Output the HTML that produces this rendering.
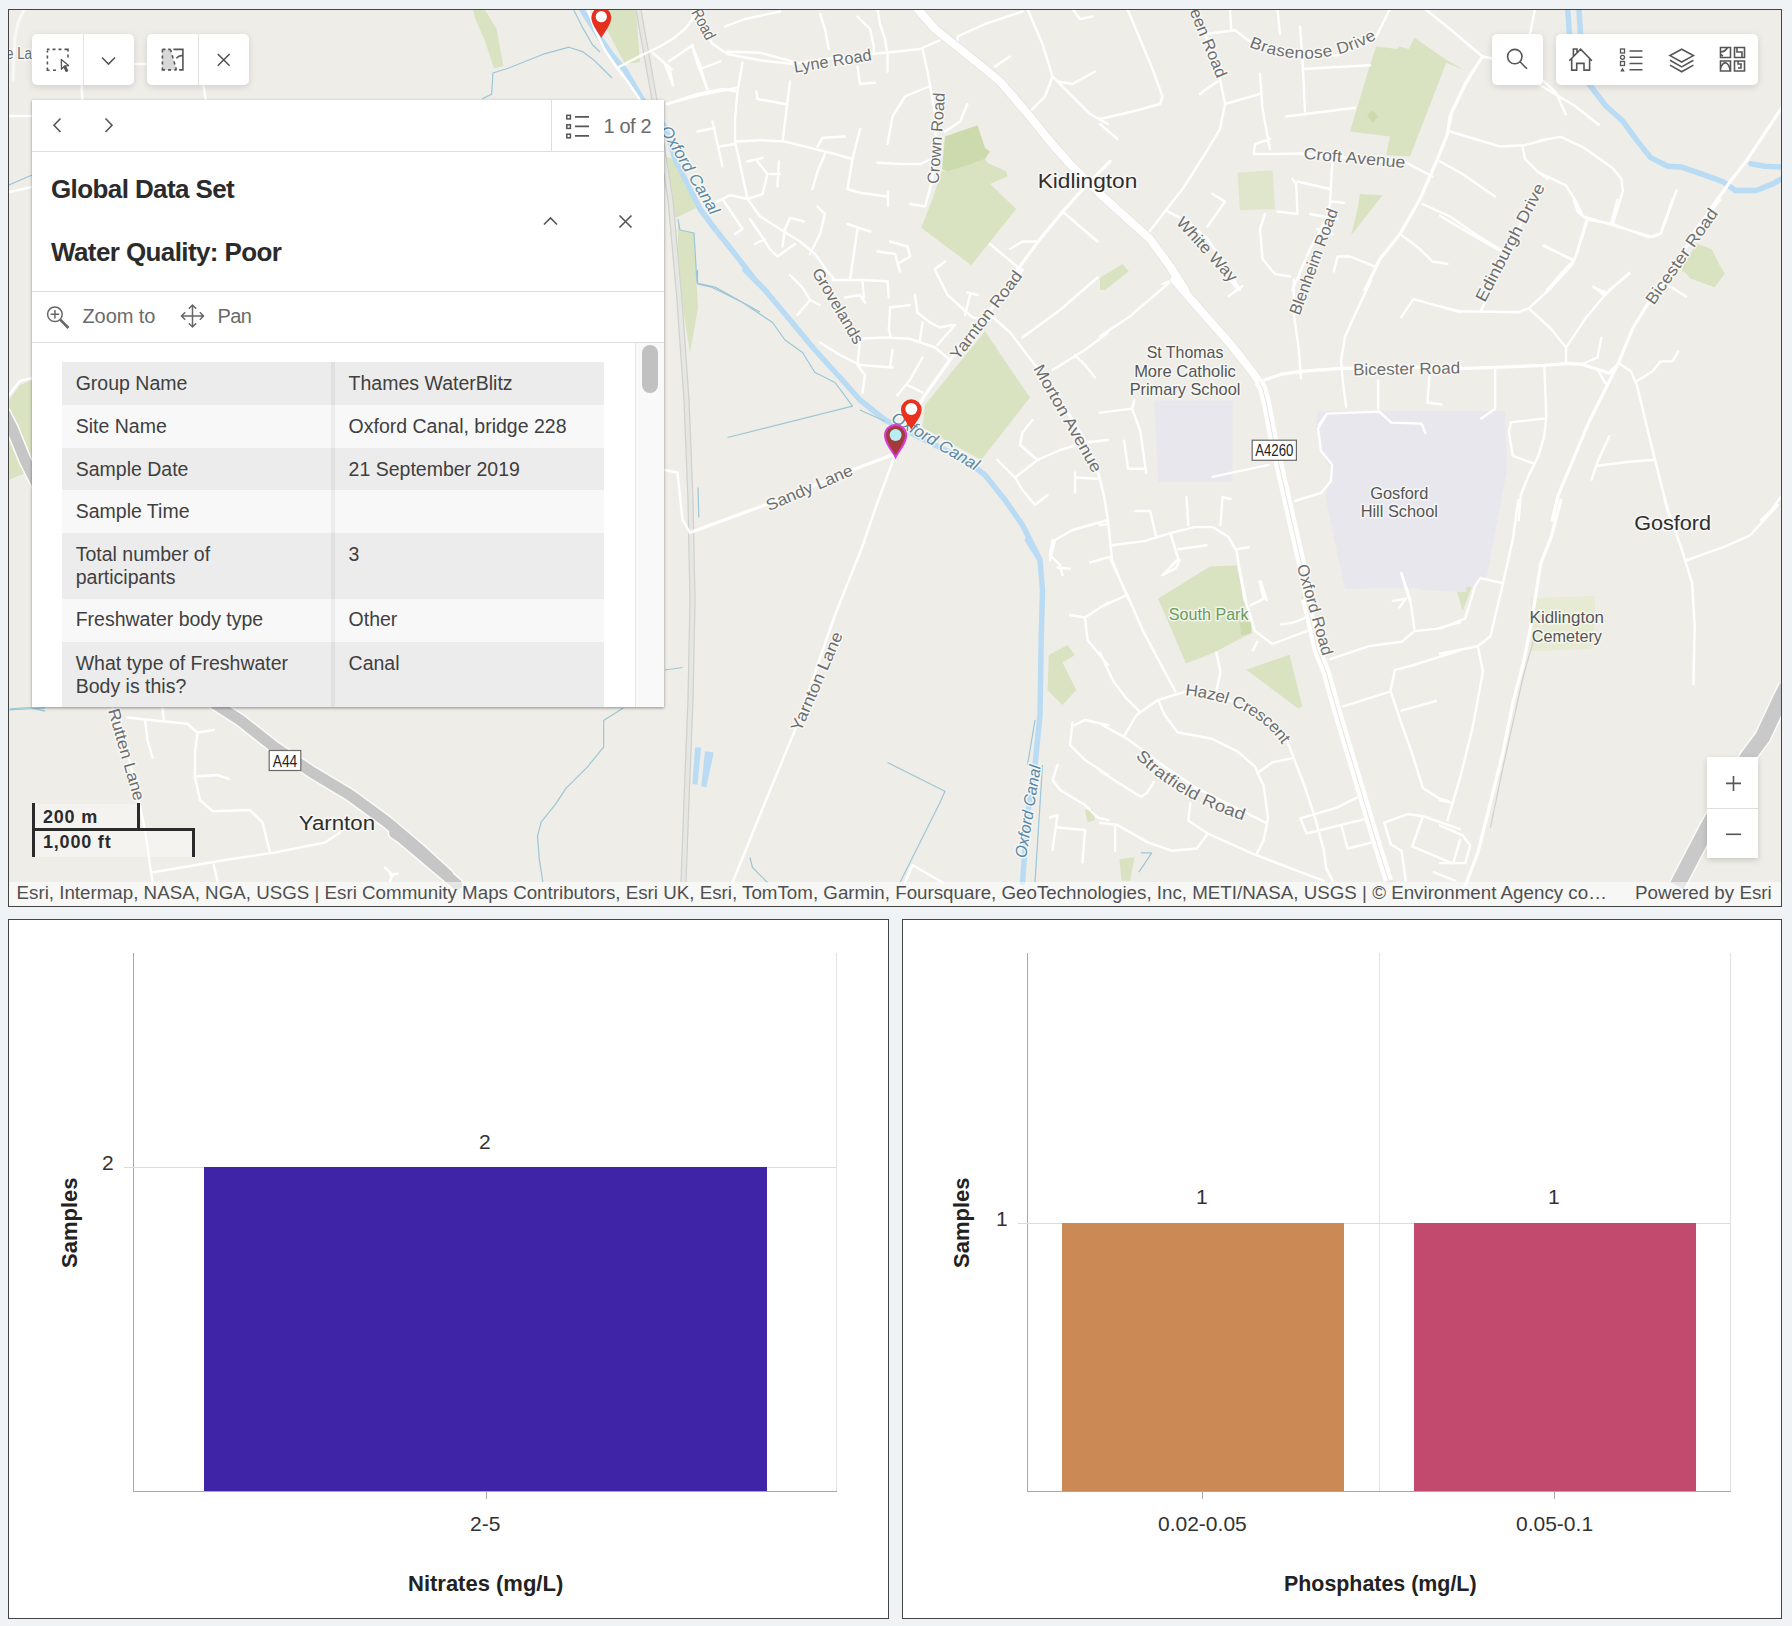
<!DOCTYPE html>
<html><head><meta charset="utf-8">
<style>
*{box-sizing:border-box;margin:0;padding:0}
html,body{width:1792px;height:1626px;overflow:hidden;background:#f0f3f5;font-family:"Liberation Sans",sans-serif;color:#323232}
.abs{position:absolute}
#map{position:absolute;left:8px;top:9px;width:1774px;height:898px;border:1px solid #444;overflow:hidden;background:#eeede8}
#map svg.base{position:absolute;left:-9px;top:-10px}
.panel{position:absolute;top:919px;height:700px;border:1px solid #444;background:#fff;overflow:hidden}
.tb{position:absolute;background:#fff;border-radius:5px;box-shadow:0 2px 7px rgba(0,0,0,.13)}
.t{position:absolute;white-space:nowrap;line-height:1}
</style></head>
<body>
<div id="map">
<svg class="base" width="1792" height="920" viewBox="0 0 1792 920">
<rect x="0" y="0" width="1792" height="920" fill="#eeede8"/>
<!--MAPSTART-->
<path fill="#d9e3c2" stroke="none" d="M947.5 171.5 L985.0 159.0 L987.5 162.8 L1006.2 171.5 L1007.5 176.5 L990.0 184.0 L1016.2 209.0 L971.2 265.2 L921.2 227.8 L932.5 199.0 L942.0 170.2 Z M472.9 9.7 L484.7 9.7 L496.4 28.4 L503.4 65.9 L494.0 68.3 L484.7 40.2 L475.3 19.1 Z M596.0 10.0 L636.0 10.0 L640.0 62.0 L625.0 64.0 L607.0 30.0 Z M9.0 400.0 L20.0 385.0 L32.0 380.0 L32.0 470.0 L9.0 480.0 Z M667.0 157.0 L678.0 160.0 L696.0 208.0 L678.0 217.0 L669.0 219.0 Z M678.0 219.0 L680.0 230.0 L694.0 233.0 L698.0 308.0 L690.0 353.0 L683.0 308.0 L678.0 255.0 Z M925.0 405.0 L985.0 331.2 L1016.2 377.5 L1030.0 397.5 L981.2 460.0 L922.5 427.5 Z M1376.2 46.5 L1397.5 49.0 L1398.8 46.5 L1408.8 49.0 L1414.5 37.8 L1445.0 59.0 L1466.2 71.0 L1446.2 62.8 L1410.0 156.5 L1386.2 155.2 L1390.0 136.5 L1350.0 131.5 L1368.8 69.0 Z M1362.0 181.5 L1360.0 194.0 L1382.5 195.2 L1351.2 235.2 L1357.5 209.0 Z M1100.0 277.8 L1122.5 264.0 L1128.8 271.5 L1105.0 290.0 L1100.0 290.0 Z M1681.7 268.2 L1695.5 245.8 L1711.1 251.0 L1724.9 273.4 L1714.6 287.3 L1690.4 278.6 Z M1682.1 270.9 L1695.9 243.3 L1711.7 249.2 L1723.5 272.8 L1715.6 286.6 L1695.9 278.7 Z M1166.3 600.0 L1208.5 569.3 L1236.6 567.3 L1240.6 600.0 Z M1455.1 585.7 L1472.8 584.5 L1462.7 610.9 Z M1158.1 598.8 L1209.8 566.5 L1236.7 565.4 L1250.7 633.2 L1214.1 652.6 L1186.1 663.4 Z M1246.4 669.8 L1289.5 654.7 L1302.4 706.4 L1298.1 708.6 Z M1119.4 859.3 L1134.5 857.2 L1130.1 880.8 L1121.5 880.8 Z M1048.8 655.0 L1067.5 645.0 L1075.0 655.0 L1062.5 662.5 L1076.2 690.0 L1062.5 705.0 L1047.5 690.0 Z M1085.0 810.0 L1092.5 808.8 L1095.0 820.0 L1087.5 822.5 Z"/>
<path fill="#cddaae" stroke="none" d="M945.0 136.5 L977.5 125.2 L985.0 147.8 L990.0 151.5 L985.0 159.0 L967.5 165.2 L947.5 171.5 L942.0 169.0 Z M1367.0 115.2 L1372.5 110.2 L1378.0 116.5 L1372.5 122.8 Z M1240.0 622.4 L1250.7 621.4 L1251.8 633.2 L1241.0 635.4 Z"/>
<path fill="#e9e7ee" stroke="none" d="M1154.2 400.5 L1232.6 400.5 L1232.6 481.9 L1158.3 481.9 Z M1318.0 411.0 L1505.0 411.0 L1507.0 470.0 L1486.9 575.9 L1473.0 587.0 L1345.1 589.0 L1333.6 535.9 L1325.6 497.6 L1332.0 472.0 L1324.0 459.0 L1316.0 430.1 Z M1341.2 557.8 L1466.1 557.8 L1466.1 592.3 L1423.0 590.1 L1403.6 584.8 L1345.5 585.8 Z"/>
<path fill="#dfe6cc" stroke="none" d="M1237.5 172.8 L1272.5 170.2 L1275.0 209.0 L1240.0 210.2 Z"/>
<path fill="#e8ebd3" stroke="none" d="M1530.8 598.3 L1595.1 595.8 L1593.8 648.8 L1530.8 651.3 Z"/>
<path fill="#b9dcf4" stroke="none" d="M695.0 747.5 L701.2 747.5 L697.5 785.0 L692.5 783.8 Z M705.0 751.2 L713.8 752.5 L706.2 787.5 L701.2 786.2 Z"/>
<path fill="none" stroke="#b9dcf4" stroke-width="5.5" stroke-linejoin="round" stroke-linecap="round" d="M665.0 126.5 L675.0 159.0 L687.5 184.0 L700.0 209.0 L715.0 229.0 L735.0 254.0 L755.0 280.0 M582.0 10.0 L598.0 35.0 L612.0 55.0 L625.0 70.0 L642.0 99.0 L666.0 128.0 M745.0 270.0 L765.0 290.0 L790.0 320.0 L815.0 350.0 L840.0 377.5 L860.0 400.0 L885.0 420.0 L910.0 432.5 L935.0 445.0 L965.0 460.0 L985.0 475.0 L1005.0 500.0 L1022.5 525.0 L1040.0 560.0 M1578.9 9.0 L1580.6 34.9 L1588.4 83.3 L1605.7 105.8 L1623.0 121.3 L1636.8 140.4 L1650.6 157.6 L1667.9 166.3 L1681.7 167.1 L1704.2 174.9 L1723.2 181.8 L1735.3 190.5 L1756.0 190.5 L1773.3 183.6 L1785.4 176.6 M1567.7 9.0 L1569.4 33.2 L1581.5 60.8 M1750.9 163.7 L1764.7 166.3 L1785.4 167.1 M1027.5 540.0 L1040.0 560.0 L1042.5 590.0 L1041.2 640.0 L1040.0 715.0 L1035.0 765.0 L1027.5 815.0 L1022.5 882.5"/>
<path fill="none" stroke="#9dc6d6" stroke-width="1.2" stroke-linejoin="round" d="M10.0 708.8 L30.0 707.5 L45.0 711.2 M623.2 707.9 L603.6 720.4 L603.6 747.1 L587.5 766.8 L566.1 788.2 L555.4 804.3 L541.1 822.1 L537.5 836.4 L539.3 859.6 L542.9 882.0 M482.3 98.7 L491.7 94.1 L492.9 73.0 L508.1 68.3 L543.3 54.2 L569.0 47.2 L583.1 51.9 L592.5 58.9 L600.0 66.0 L612.0 78.0 M573.7 10.0 L583.1 28.4 L592.5 44.8 L600.0 52.0 M9.0 185.0 L25.0 178.0 L32.0 175.0 M9.0 710.0 L45.0 708.0 M678.0 219.0 L680.0 230.0 L694.0 233.0 L697.0 283.0 L715.0 287.0 L760.0 312.0 M697.5 270.0 L697.5 283.8 L712.5 287.5 L742.5 302.5 L772.5 322.5 L785.0 340.0 L802.5 352.5 L815.0 372.5 L835.0 382.5 L852.5 406.2 L727.5 437.5 M860.0 410.0 L885.0 421.2 M698.0 487.5 L698.8 517.5 M1140.9 852.9 L1151.7 852.9 L1143.1 865.8 L1138.8 872.2 M1035.0 720.0 L1027.5 765.0 M1042.5 765.0 L1035.0 882.5 M887.5 762.5 L945.0 791.2 L940.0 802.5 L900.0 882.5 M665.0 670.0 L682.5 667.5 M750.0 857.5 L752.5 867.5 L767.5 882.5"/>
<path fill="none" stroke="#e6e6e2" stroke-width="6" d="M638.5 10.0 L654.5 100.0 L670.5 200.0 L679.5 300.0 L686.5 400.0 L690.5 500.0 L692.5 600.0 L690.5 700.0 L686.5 800.0 L683.5 882.0"/>
<path fill="none" stroke="#d0d0cd" stroke-width="1.2" d="M636.0 10.0 L652.0 100.0 L668.0 200.0 L677.0 300.0 L684.0 400.0 L688.0 500.0 L690.0 600.0 L688.0 700.0 L684.0 800.0 L681.0 882.0 M641.0 10.0 L657.0 100.0 L673.0 200.0 L682.0 300.0 L689.0 400.0 L693.0 500.0 L695.0 600.0 L693.0 700.0 L689.0 800.0 L686.0 882.0 M1533.3 641.2 L1523.2 676.5 L1513.1 721.9 L1503.0 767.3 L1490.4 827.8"/>
<path fill="none" stroke="#ffffff" stroke-opacity="0.6" stroke-width="3" stroke-linecap="round" stroke-linejoin="round" d="M24.0 10.0 L18.0 23.0 L15.0 37.0 L14.0 56.0 L13.0 80.0"/>
<path fill="none" stroke="#fbfbfa" stroke-width="14" stroke-linejoin="round" stroke-linecap="round" d="M215.0 703.8 L240.0 720.0 L275.0 747.5 L312.5 772.5 L350.0 795.0 L387.5 822.5 L420.0 850.0 L448.0 875.5 M394.6 832.9 L400.0 836.4 L421.4 854.3 L444.6 873.9 L457.1 884.6 M0.0 405.0 L12.0 428.0 L25.0 460.0 L40.0 490.0"/>
<path fill="none" stroke="#c6c6c6" stroke-width="11" stroke-linejoin="round" stroke-linecap="round" d="M215.0 703.8 L240.0 720.0 L275.0 747.5 L312.5 772.5 L350.0 795.0 L387.5 822.5 L420.0 850.0 L448.0 875.5 M394.6 832.9 L400.0 836.4 L421.4 854.3 L444.6 873.9 L457.1 884.6 M0.0 405.0 L12.0 428.0 L25.0 460.0 L40.0 490.0"/>
<path fill="none" stroke="#fbfbfa" stroke-width="18" stroke-linejoin="round" d="M1786.7 686.6 L1780.4 699.2 L1762.7 737.0 L1747.6 757.2 L1707.3 827.8 L1677.0 885.8"/>
<path fill="none" stroke="#c9c9c9" stroke-width="15" stroke-linejoin="round" d="M1786.7 686.6 L1780.4 699.2 L1762.7 737.0 L1747.6 757.2 L1707.3 827.8 L1677.0 885.8"/>
<path fill="none" stroke="#ffffff" stroke-width="2.4" stroke-linejoin="round" stroke-linecap="round" d="M692.5 9.0 L702.5 26.5 L712.5 44.0 L727.5 54.0 L760.0 60.2 L792.5 64.0 M660.0 46.5 L672.5 39.0 L685.0 29.0 L692.5 19.0 L697.5 9.0 M727.5 51.5 L760.0 52.8 L792.5 61.5 M792.5 64.0 L835.0 57.8 L872.5 54.0 L897.5 51.5 L920.0 49.0 L940.0 40.2 M887.5 71.5 L887.5 54.0 L885.0 39.0 L880.0 24.0 L877.5 9.0 M820.0 14.0 L825.0 29.0 L828.8 49.0 M857.5 16.5 L870.0 29.0 L873.8 46.5 L873.8 52.8 M857.5 66.5 L860.0 84.0 L875.0 82.8 M725.0 26.5 L745.0 19.0 L780.0 11.5 M665.0 64.0 L672.5 84.0 M692.5 46.5 L697.5 64.0 L707.5 89.0 M700.0 69.0 L720.0 61.5 M667.5 104.0 L697.5 94.0 L722.5 89.0 L737.5 91.5 M742.5 62.8 L737.5 91.5 L735.0 119.0 L735.0 141.5 L740.0 164.0 L747.5 199.0 L760.0 216.5 L780.0 229.0 L800.0 241.5 L815.0 254.0 L827.5 271.5 L835.0 280.0 M735.0 141.5 L760.0 140.2 L785.0 141.5 L810.0 147.8 L835.0 154.0 L852.5 159.0 M860.0 129.0 L852.5 159.0 L847.5 189.0 L860.0 192.8 L887.5 196.5 M888.0 191.5 L888.0 205.2 M790.0 81.5 L782.5 141.5 M756.2 91.5 L757.5 99.0 L785.0 104.0 M845.0 136.5 L822.5 137.8 L817.5 146.5 M825.0 154.0 L817.5 171.5 L812.5 189.0 M697.5 131.5 L715.0 127.8 M712.5 121.5 L722.5 166.5 M720.0 146.5 L735.0 144.0 M712.5 204.0 L730.0 195.2 L747.5 199.0 M722.5 199.0 L742.5 229.0 L735.0 234.0 M747.5 161.5 L762.5 157.8 M757.5 161.5 L767.5 174.0 L762.5 194.0 L747.5 199.0 M770.0 174.0 L780.0 174.0 M778.8 161.5 L777.5 186.5 M750.0 219.0 L760.0 234.0 L770.0 249.0 L777.5 256.5 L795.0 244.0 M755.0 244.0 L765.0 239.0 M803.8 221.5 L790.0 217.8 L785.0 229.0 L782.5 246.5 M817.5 206.5 L825.0 214.0 L820.0 234.0 L810.0 254.0 M847.5 224.0 L870.0 231.5 M857.5 229.0 L850.0 280.0 M877.5 251.5 L895.0 254.0 L900.0 271.5 M890.0 241.5 L907.5 246.5 L910.0 256.5 L897.5 264.0 M922.5 49.0 L927.5 71.5 L931.2 91.5 L935.0 114.0 L936.2 149.0 L931.2 184.0 L925.0 206.5 L910.0 204.0 M928.8 86.5 L905.0 96.5 L892.5 116.5 L887.5 144.0 M877.5 162.8 L900.0 164.0 L920.0 164.0 L931.2 159.0 M945.0 131.5 L960.0 121.5 L967.5 104.0 M957.5 41.5 L957.5 36.5 L985.0 24.0 L1022.5 11.5 M1027.5 9.0 L1042.5 44.0 L1052.5 76.5 L1045.0 96.5 L1030.0 111.5 M1052.5 76.5 L1072.5 96.5 L1090.0 114.0 L1108.0 124.0 M1057.5 81.5 L1072.5 84.0 L1095.0 71.5 M995.0 66.5 L1010.0 56.5 M1072.5 9.0 L1080.0 19.0 L1092.5 16.5 M1062.5 211.5 L1080.0 226.5 L1097.5 241.5 M1010.0 249.0 L1022.5 241.5 L1037.5 241.5 M990.0 244.0 L1005.0 256.5 L1020.0 269.0 M935.0 269.0 L945.0 261.5 M112.5 707.5 L125.0 740.0 L137.5 795.0 L145.0 830.0 L150.0 865.0 L152.5 881.2 M127.5 717.5 L150.0 720.0 L187.5 723.8 L197.5 732.5 L195.0 752.5 L195.0 777.5 L200.0 800.0 L212.5 811.2 L250.0 810.0 L262.5 822.5 L270.0 852.5 M145.0 720.0 L147.5 740.0 L152.5 757.5 M162.5 707.5 L163.8 720.0 M197.5 732.5 L213.8 730.0 M197.5 776.2 L217.5 775.0 L228.8 778.8 M152.5 872.5 L225.0 860.0 L275.0 852.5 L325.0 842.5 L340.0 832.5 M213.8 865.0 L217.5 881.2 M385.0 867.5 L392.5 875.0 L390.0 881.2 M390.0 875.0 L397.5 873.8 M203.4 84.7 L205.8 100.0 M81.5 85.0 L82.3 100.0 M133.0 64.0 L148.0 64.0 M617.0 68.0 L640.0 56.0 L660.0 46.5 M617.0 68.0 L605.0 50.0 L595.0 30.0 L588.0 10.0 M617.0 68.0 L628.0 82.0 L640.0 100.0 M9.0 116.0 L32.0 116.0 M653.0 53.0 L671.8 69.3 M669.0 61.3 L693.0 45.0 M693.0 47.9 L700.0 65.0 L706.6 88.0 M669.0 66.6 L673.0 85.4 M666.4 104.0 L700.0 95.0 L736.0 88.0 M9.0 192.0 L32.0 187.0 M9.0 395.0 L20.0 381.0 L32.0 378.0 M665.0 470.0 L677.5 472.5 L682.5 520.0 L690.0 532.5 M895.0 455.0 L877.5 502.5 L857.5 560.0 M985.0 310.0 L1010.0 332.5 L1035.0 365.0 L1060.0 400.0 L1085.0 440.0 L1097.5 470.0 L1103.8 495.0 L1108.0 520.0 L1112.0 560.0 M1022.5 337.5 L1060.0 310.0 L1097.5 277.5 M1052.5 370.0 L1085.0 350.0 L1108.0 332.5 M1075.0 355.0 L1085.0 365.0 L1095.0 377.5 M997.5 460.0 L1015.0 477.5 L1022.5 490.0 L1035.0 505.0 L1047.5 495.0 M1015.0 477.5 L1037.5 460.0 L1060.0 450.0 L1085.0 442.5 L1108.0 440.0 M1032.5 420.0 L1022.5 432.5 L1020.0 445.0 L1037.5 460.0 M1075.0 472.5 L1075.0 492.5 M1075.0 477.5 L1097.5 478.8 M1050.0 560.0 L1055.0 540.0 L1072.5 530.0 L1108.0 520.0 M790.0 275.0 L802.5 287.5 L810.0 300.0 L820.0 305.0 M797.5 315.0 L810.0 300.0 M820.0 270.0 L835.0 302.5 L850.0 327.5 L860.0 338.8 M860.0 338.8 L885.0 337.5 L910.0 338.8 L935.0 347.5 L950.0 360.0 M832.5 280.0 L860.0 280.0 L887.5 281.2 L888.8 297.5 M862.5 280.0 L863.8 297.5 M845.0 297.5 L860.0 295.0 L865.0 302.5 M890.0 307.5 L910.0 305.0 M890.0 307.5 L888.8 330.0 L891.2 337.5 M915.0 295.0 L917.5 312.5 L930.0 322.5 L940.0 327.5 L952.5 325.0 M935.0 270.0 L947.5 295.0 L972.5 317.5 L990.0 320.0 M967.5 292.5 L977.5 295.0 M970.0 295.0 L965.0 315.0 M922.5 322.5 L920.0 340.0 M955.0 325.0 L937.5 345.0 M820.0 342.5 L840.0 355.0 L860.0 365.0 L892.5 367.5 M860.0 340.0 L857.5 365.0 L865.0 375.0 L862.5 392.5 M892.5 350.0 L890.0 367.5 M922.5 357.5 L910.0 380.0 L897.5 395.0 M907.5 385.0 L922.5 392.5 M1127.5 9.0 L1140.0 39.0 L1152.5 69.0 L1162.5 96.5 L1160.0 104.0 L1132.5 111.5 L1100.0 119.0 M1100.0 124.0 L1117.5 139.0 M1195.0 9.0 L1210.0 46.5 L1220.0 79.0 L1225.0 104.0 L1220.0 129.0 L1205.0 154.0 L1182.5 189.0 L1165.0 211.5 L1147.5 234.0 M1200.0 94.0 L1210.0 86.5 L1217.5 81.5 M1225.0 104.0 L1260.0 94.0 M1260.0 74.0 L1262.5 109.0 L1270.0 149.0 M1270.0 139.0 L1255.0 144.0 L1253.8 154.0 L1275.0 154.0 L1302.5 153.5 L1350.0 157.8 L1406.2 162.8 L1432.5 176.5 M1205.0 34.0 L1235.0 30.2 L1250.0 41.5 L1300.0 54.0 L1337.5 55.2 L1375.0 39.0 L1390.0 9.0 M1230.0 9.0 L1231.2 29.0 M1277.5 9.0 L1280.0 34.0 M1300.0 26.5 L1302.5 59.0 L1305.0 111.5 M1302.5 69.0 L1370.0 65.2 M1286.2 116.5 L1355.0 107.8 M1425.0 9.0 L1450.0 29.0 L1482.5 56.5 L1495.0 59.0 M1470.0 76.5 L1452.5 109.0 L1450.0 124.0 M1450.0 131.5 L1475.0 139.0 L1500.0 146.5 L1525.0 145.2 L1548.0 139.0 M1522.5 146.5 L1525.0 159.0 L1537.5 171.5 L1548.0 179.0 M1440.0 161.5 L1462.5 174.0 L1495.0 196.5 M1422.5 204.0 L1450.0 216.5 L1475.0 234.0 L1500.0 249.0 M1400.0 234.0 L1420.0 249.0 L1432.5 261.5 L1447.5 264.0 M1333.8 271.5 L1337.5 256.5 L1350.0 256.5 L1375.0 266.5 M1535.0 9.0 L1530.0 34.0 M1332.5 159.0 L1330.0 204.0 L1325.0 221.5 L1310.0 249.0 L1292.5 290.0 M1292.5 179.0 L1296.2 184.0 L1297.5 214.0 L1277.5 211.5 M1297.5 181.5 L1330.0 189.0 M1330.0 201.5 L1343.8 202.8 M1310.0 214.0 L1337.5 219.0 M1317.5 229.0 L1332.5 234.0 M1265.0 214.0 L1260.0 229.0 L1262.5 259.0 L1275.0 274.0 L1290.0 276.5 M1167.5 211.5 L1187.5 221.5 L1207.5 239.0 L1225.0 264.0 L1240.0 290.0 M1212.5 194.0 L1225.0 201.5 L1207.5 226.5 M1162.5 284.0 L1175.0 279.0 M1540.0 140.4 L1560.7 136.9 L1583.2 147.3 L1612.6 168.0 L1621.2 178.4 L1623.0 190.5 L1612.6 225.0 M1540.0 173.2 L1565.9 185.3 L1574.6 199.1 L1583.2 216.4 L1612.6 225.0 L1652.3 237.1 L1661.0 233.7 L1676.5 190.5 M1586.7 219.9 L1574.6 259.6 L1565.9 268.2 L1546.9 290.0 M1543.5 245.8 L1572.8 259.6 M1629.9 273.4 L1609.1 290.0 M1593.6 287.3 L1605.7 292.4 M1540.0 78.1 L1555.6 92.0 L1565.9 114.4 M1540.0 85.0 L1574.6 105.8 L1598.8 124.8 M1619.1 363.4 L1630.9 371.3 L1636.9 385.0 L1646.7 426.4 L1656.5 465.7 L1670.3 520.1 M1636.9 381.1 L1652.6 371.3 L1660.5 361.4 L1672.3 361.4 L1678.2 351.6 M1581.7 364.4 L1597.5 357.5 L1601.4 337.8 M1597.5 369.3 L1605.4 383.1 M1566.0 363.4 L1566.0 347.6 L1585.7 318.1 L1605.4 294.5 L1629.0 272.8 M1593.5 286.6 L1603.4 294.5 M1566.0 347.6 L1550.2 328.0 L1528.6 308.3 L1518.7 312.2 L1459.7 311.2 L1440.0 306.3 M1528.6 308.3 L1550.2 288.6 L1571.9 265.0 L1577.8 251.2 L1587.6 219.7 L1611.3 223.6 L1648.7 237.4 L1660.5 233.5 L1672.3 200.0 M1611.3 223.6 L1617.2 200.0 M1587.6 219.7 L1577.8 211.8 L1573.9 200.0 M1544.3 245.3 L1573.9 261.0 M1440.0 215.7 L1469.5 233.5 L1501.0 251.2 M1481.3 310.2 L1495.1 278.7 L1508.9 249.2 L1522.7 219.7 L1532.5 200.0 M1495.1 367.3 L1495.1 408.7 L1481.3 418.5 M1544.3 365.4 L1546.3 416.5 L1544.3 436.2 L1538.4 455.9 L1528.6 475.6 L1520.7 495.3 L1518.7 520.1 M1544.3 418.5 L1510.9 422.4 L1508.9 432.3 L1512.8 455.9 L1534.5 463.8 M1609.3 436.2 L1597.5 461.8 L1591.6 479.5 M1597.5 465.7 L1629.0 461.8 L1654.6 459.8 M1780.6 497.2 L1770.7 511.0 L1760.9 520.1 M1670.3 286.6 L1686.1 296.5 M1100.0 336.2 L1130.1 316.2 L1172.3 280.0 M1228.6 296.1 L1242.6 286.0 M1230.6 280.0 L1236.6 288.0 M1293.9 280.0 L1293.9 314.2 L1298.9 350.3 L1300.9 378.4 M1371.2 280.0 L1357.1 310.1 L1345.1 336.2 L1341.1 360.4 L1343.1 384.5 L1346.1 406.6 M1401.3 317.2 L1413.4 299.1 L1460.0 312.1 M1378.2 380.4 L1378.2 408.6 M1429.4 376.4 L1427.4 402.5 L1441.5 404.5 M1319.0 424.6 L1327.0 413.6 L1379.2 411.6 L1391.3 422.6 L1421.4 423.6 L1425.4 432.7 M1327.0 413.6 L1318.0 428.7 L1321.0 450.8 L1332.0 464.8 L1331.0 480.9 L1321.0 492.9 L1294.9 501.0 M1100.0 412.6 L1132.1 408.6 L1134.2 400.5 M1132.1 408.6 L1140.2 430.7 L1146.2 472.8 M1112.1 560.0 L1120.1 579.9 L1128.9 600.0 M1124.1 440.7 L1128.1 468.8 L1144.2 468.8 M1212.5 476.9 L1268.7 464.8 M1100.0 525.1 L1108.0 524.1 M1112.1 545.2 L1144.2 541.1 L1170.3 533.1 L1194.4 527.1 L1212.5 527.1 L1228.6 537.1 L1236.6 551.2 L1244.6 600.0 M1135.2 511.0 L1150.2 511.0 L1156.2 537.1 M1186.4 497.0 L1188.4 525.1 M1220.5 525.1 L1222.5 497.0 L1230.6 499.0 M1170.3 533.1 L1178.3 559.2 L1164.3 573.3 M1178.3 549.2 L1206.5 545.2 M1236.6 549.2 L1248.7 547.2 M1100.0 559.2 L1110.0 557.2 M1260.7 581.3 L1266.7 600.0 M1401.3 573.3 L1409.4 600.0 M1503.0 583.2 L1480.3 578.2 L1475.3 585.7 L1465.2 618.5 L1440.0 628.6 M1518.2 500.0 L1513.1 537.8 L1503.0 583.2 L1490.4 636.2 L1477.8 646.2 L1440.0 653.8 M1477.8 646.2 L1482.9 671.5 L1472.8 726.9 L1460.2 777.4 L1447.6 820.2 M1440.0 800.1 L1450.1 802.6 M1440.0 825.3 L1462.7 835.4 L1470.3 845.4 L1465.2 863.1 L1440.0 863.1 M1664.4 500.0 L1682.1 550.4 L1692.1 583.2 L1694.7 626.1 L1693.4 684.1 M1685.8 560.5 L1724.9 546.6 L1750.1 535.3 L1777.9 505.0 M1110.8 560.0 L1128.0 596.6 L1143.1 631.1 L1160.3 663.4 L1175.4 691.4 M1100.0 607.4 L1125.8 595.5 M1100.0 652.6 L1112.9 680.6 L1125.8 697.8 L1138.8 710.7 M1123.7 736.6 L1136.6 715.0 L1158.1 700.0 L1186.1 691.4 L1229.2 700.0 L1263.7 719.3 L1287.3 740.9 L1293.8 758.1 L1304.6 786.1 L1315.3 818.4 L1323.9 850.7 L1326.1 867.9 L1332.6 880.8 M1158.1 700.0 L1164.6 715.0 L1177.5 732.3 L1212.0 738.7 L1237.8 751.6 L1255.0 766.7 L1263.7 786.1 L1268.0 818.4 L1263.7 839.9 L1257.2 852.9 M1257.2 773.2 L1272.3 762.4 L1292.7 758.1 M1100.0 723.7 L1123.7 736.6 L1138.8 747.3 L1164.6 766.7 L1196.9 788.3 L1244.3 811.9 L1265.8 822.7 M1100.0 771.0 L1140.9 796.9 L1147.4 792.6 L1153.8 781.8 M1190.4 803.3 L1188.3 820.6 L1207.7 833.5 L1250.7 852.9 L1289.5 867.9 L1323.9 880.8 M1207.7 833.5 L1196.9 848.5 L1171.1 850.7 L1147.4 842.1 L1117.2 824.9 L1100.0 822.7 M1115.1 824.9 L1115.1 850.7 M1216.3 652.6 L1220.6 672.0 L1216.3 691.4 M1237.8 560.0 L1246.4 603.1 L1255.0 631.1 L1272.3 644.0 L1306.7 631.1 M1257.2 641.8 L1252.9 650.4 M1250.7 605.2 L1263.7 598.8 L1259.3 581.5 M1280.9 624.6 L1293.8 622.4 L1304.6 618.1 M1162.4 575.1 L1175.4 568.6 L1179.7 560.0 M1330.4 659.1 L1369.2 646.1 L1401.5 641.8 L1414.4 631.1 L1435.9 628.9 L1460.0 622.4 M1401.5 572.9 L1410.1 598.8 L1414.4 628.9 M1392.9 600.9 L1405.8 598.8 L1399.3 607.4 M1343.3 706.4 L1390.7 691.4 L1401.5 723.7 L1412.2 753.8 L1423.0 788.3 L1440.2 799.0 L1448.8 801.2 M1390.7 689.2 L1395.0 669.8 L1412.2 665.5 L1460.0 650.4 M1401.5 710.7 L1435.9 701.0 M1300.3 818.4 L1306.7 833.5 L1358.4 820.6 L1369.2 818.4 M1300.3 818.4 L1336.9 807.6 L1358.4 796.9 M1341.2 824.9 L1347.6 848.5 L1373.5 842.1 M1384.2 822.7 L1390.7 844.2 L1401.5 850.7 L1405.8 880.8 M1384.2 822.7 L1407.9 814.1 L1423.0 816.2 L1460.0 829.2 M1423.0 816.2 L1412.2 846.4 L1453.1 863.6 L1460.0 839.9 M1433.8 872.2 L1455.3 880.8 M865.0 540.0 L835.0 615.0 L795.0 730.0 L765.0 802.5 L732.5 882.5 M1052.5 540.0 L1050.0 555.0 L1060.0 565.0 L1062.5 575.0 M1057.5 567.5 L1070.0 568.8 M1090.0 562.5 L1108.0 557.5 M1070.0 615.0 L1085.0 617.5 L1108.0 602.5 M1085.0 617.5 L1087.5 640.0 L1108.0 665.0 M1072.5 722.5 L1070.0 745.0 L1085.0 760.0 L1108.0 775.0 M1075.0 725.0 L1085.0 720.0 L1108.0 725.0 M1057.5 765.0 L1052.5 780.0 L1060.0 790.0 L1085.0 805.0 L1097.5 817.5 L1108.0 820.0 M1050.0 817.5 L1057.5 815.0 L1052.5 850.0 M1057.5 827.5 L1085.0 830.0 L1082.5 862.5 M905.0 882.5 L912.5 865.0 L942.5 882.5"/>
<path fill="none" stroke="#ffffff" stroke-width="3.2" stroke-linejoin="round" stroke-linecap="round" d="M1010.0 280.0 L1040.0 239.0 L1065.0 209.0 L1083.0 189.0 L1100.0 171.5 L1110.0 161.5 M690.0 532.5 L765.0 505.0 L852.5 470.0 L895.0 453.8 M895.0 453.8 L910.0 420.0 L925.0 395.0 L950.0 360.0 L975.0 330.0 L1000.0 297.5 L1022.5 270.0 M1482.5 56.5 L1465.0 84.0 L1450.0 116.5 L1447.5 134.0 L1437.5 159.0 L1420.0 199.0 L1400.0 234.0 L1380.0 259.0 L1365.0 290.0 M1650.6 302.8 L1712.8 206.0 L1730.1 181.8 L1747.4 159.4 L1764.7 133.4 L1785.4 102.3 M1719.5 200.0 L1695.9 229.5 L1676.2 265.0 L1648.7 302.4 L1632.9 328.0 L1619.1 361.4 L1605.4 389.0 L1589.6 420.5 L1573.9 457.9 L1558.1 495.3 L1552.2 520.1 M1440.0 369.3 L1495.1 367.3 L1544.3 365.4 L1568.0 363.4 L1581.7 364.4 L1597.5 369.3 L1609.3 373.2 L1619.1 363.4 M1262.7 380.4 L1280.8 374.4 L1300.9 371.4 L1341.1 368.4 L1460.0 366.4 M1561.0 500.0 L1550.9 537.8 L1540.9 563.0 L1530.8 626.1 L1523.2 663.9 L1513.1 701.7 L1503.0 752.1 L1490.4 802.6 L1477.8 853.0 L1465.2 885.8"/>
<path fill="none" stroke="#e4e3de" stroke-width="9.5" stroke-linejoin="round" stroke-linecap="round" d="M917.5 9.0 L935.0 29.0 L960.0 49.0 L985.0 69.0 L1000.0 81.5 L1015.0 99.0 L1030.0 116.5 L1050.0 141.5 L1070.0 164.0 L1090.0 184.0 L1108.0 201.5 M1100.0 194.0 L1125.0 216.5 L1150.0 239.0 L1170.0 266.5 L1185.0 290.0 M1174.3 280.0 L1200.4 310.1 L1230.6 344.3 L1252.7 372.4 L1260.7 384.5 M1258.7 381.4 L1262.7 388.5 L1266.7 404.5 L1272.8 436.7 L1280.8 472.8 L1290.8 517.0 L1300.9 561.2 L1308.9 600.0 M1305.6 598.8 L1306.7 603.1 L1317.5 650.4 L1326.1 672.0 L1336.9 710.7 L1349.8 753.8 L1362.7 796.9 L1375.6 839.9 L1388.5 880.8"/>
<path fill="none" stroke="#ffffff" stroke-width="8" stroke-linejoin="round" stroke-linecap="round" d="M917.5 9.0 L935.0 29.0 L960.0 49.0 L985.0 69.0 L1000.0 81.5 L1015.0 99.0 L1030.0 116.5 L1050.0 141.5 L1070.0 164.0 L1090.0 184.0 L1108.0 201.5 M1100.0 194.0 L1125.0 216.5 L1150.0 239.0 L1170.0 266.5 L1185.0 290.0 M1174.3 280.0 L1200.4 310.1 L1230.6 344.3 L1252.7 372.4 L1260.7 384.5"/>
<path fill="none" stroke="#ffffff" stroke-width="9.5" stroke-linejoin="round" d="M1258.7 381.4 L1262.7 388.5 L1266.7 404.5 L1272.8 436.7 L1280.8 472.8 L1290.8 517.0 L1300.9 561.2 L1308.9 600.0 M1305.6 598.8 L1306.7 603.1 L1317.5 650.4 L1326.1 672.0 L1336.9 710.7 L1349.8 753.8 L1362.7 796.9 L1375.6 839.9 L1388.5 880.8"/>
<path fill="none" stroke="#e4e4e0" stroke-width="1" stroke-linejoin="round" d="M1258.7 381.4 L1262.7 388.5 L1266.7 404.5 L1272.8 436.7 L1280.8 472.8 L1290.8 517.0 L1300.9 561.2 L1308.9 600.0 M1305.6 598.8 L1306.7 603.1 L1317.5 650.4 L1326.1 672.0 L1336.9 710.7 L1349.8 753.8 L1362.7 796.9 L1375.6 839.9 L1388.5 880.8"/>
<text x="704" y="24" transform="rotate(62 704 24)" font-size="16.4" fill="#6e6e6e" font-weight="normal" font-style="normal" text-anchor="middle" dominant-baseline="central" textLength="33" lengthAdjust="spacingAndGlyphs" stroke="#fbfbf8" stroke-width="3" stroke-opacity="0.75" paint-order="stroke" stroke-linejoin="round">Road</text>
<text x="832.5" y="60.5" transform="rotate(-9.2 832.5 60.5)" font-size="16.4" fill="#6e6e6e" font-weight="normal" font-style="normal" text-anchor="middle" dominant-baseline="central" textLength="78.5" lengthAdjust="spacingAndGlyphs" stroke="#fbfbf8" stroke-width="3" stroke-opacity="0.75" paint-order="stroke" stroke-linejoin="round">Lyne Road</text>
<text x="935.8" y="138.3" transform="rotate(-86 935.8 138.3)" font-size="16.4" fill="#6e6e6e" font-weight="normal" font-style="normal" text-anchor="middle" dominant-baseline="central" textLength="91.5" lengthAdjust="spacingAndGlyphs" stroke="#fbfbf8" stroke-width="3" stroke-opacity="0.75" paint-order="stroke" stroke-linejoin="round">Crown Road</text>
<text x="690.6" y="169.6" transform="rotate(59.3 690.6 169.6)" font-size="16.4" fill="#5b87a2" font-weight="normal" font-style="italic" text-anchor="middle" dominant-baseline="central" textLength="100" lengthAdjust="spacingAndGlyphs" stroke="#fbfbf8" stroke-width="3" stroke-opacity="0.75" paint-order="stroke" stroke-linejoin="round">Oxford Canal</text>
<text x="1087.5" y="180.5" transform="rotate(0 1087.5 180.5)" font-size="20.5" fill="#2e2e2e" font-weight="normal" font-style="normal" text-anchor="middle" dominant-baseline="central" textLength="99.6" lengthAdjust="spacingAndGlyphs" stroke="#fbfbf8" stroke-width="3" stroke-opacity="0.75" paint-order="stroke" stroke-linejoin="round">Kidlington</text>
<text x="838.3" y="305.7" transform="rotate(59.4 838.3 305.7)" font-size="16.4" fill="#6e6e6e" font-weight="normal" font-style="normal" text-anchor="middle" dominant-baseline="central" textLength="85" lengthAdjust="spacingAndGlyphs" stroke="#fbfbf8" stroke-width="3" stroke-opacity="0.75" paint-order="stroke" stroke-linejoin="round">Grovelands</text>
<text x="985.8" y="314.8" transform="rotate(-52.6 985.8 314.8)" font-size="16.4" fill="#6e6e6e" font-weight="normal" font-style="normal" text-anchor="middle" dominant-baseline="central" textLength="107" lengthAdjust="spacingAndGlyphs" stroke="#fbfbf8" stroke-width="3" stroke-opacity="0.75" paint-order="stroke" stroke-linejoin="round">Yarnton Road</text>
<text x="1207.5" y="249" transform="rotate(47.5 1207.5 249)" font-size="16.4" fill="#6e6e6e" font-weight="normal" font-style="normal" text-anchor="middle" dominant-baseline="central" textLength="81.4" lengthAdjust="spacingAndGlyphs" stroke="#fbfbf8" stroke-width="3" stroke-opacity="0.75" paint-order="stroke" stroke-linejoin="round">White Way</text>
<text x="1068.3" y="418.2" transform="rotate(60.3 1068.3 418.2)" font-size="16.4" fill="#6e6e6e" font-weight="normal" font-style="normal" text-anchor="middle" dominant-baseline="central" textLength="121" lengthAdjust="spacingAndGlyphs" stroke="#fbfbf8" stroke-width="3" stroke-opacity="0.75" paint-order="stroke" stroke-linejoin="round">Morton Avenue</text>
<text x="935.8" y="440.7" transform="rotate(30.5 935.8 440.7)" font-size="16.4" fill="#5b87a2" font-weight="normal" font-style="italic" text-anchor="middle" dominant-baseline="central" textLength="98.6" lengthAdjust="spacingAndGlyphs" stroke="#fbfbf8" stroke-width="3" stroke-opacity="0.75" paint-order="stroke" stroke-linejoin="round">Oxford Canal</text>
<text x="809.2" y="487.3" transform="rotate(-23.4 809.2 487.3)" font-size="16.4" fill="#6e6e6e" font-weight="normal" font-style="normal" text-anchor="middle" dominant-baseline="central" textLength="92.6" lengthAdjust="spacingAndGlyphs" stroke="#fbfbf8" stroke-width="3" stroke-opacity="0.75" paint-order="stroke" stroke-linejoin="round">Sandy Lane</text>
<text x="1185" y="352.3" transform="rotate(0 1185 352.3)" font-size="16.4" fill="#555555" font-weight="normal" font-style="normal" text-anchor="middle" dominant-baseline="central" textLength="76.7" lengthAdjust="spacingAndGlyphs" stroke="#fbfbf8" stroke-width="3" stroke-opacity="0.75" paint-order="stroke" stroke-linejoin="round">St Thomas</text>
<text x="1185" y="370.7" transform="rotate(0 1185 370.7)" font-size="16.4" fill="#555555" font-weight="normal" font-style="normal" text-anchor="middle" dominant-baseline="central" textLength="101.7" lengthAdjust="spacingAndGlyphs" stroke="#fbfbf8" stroke-width="3" stroke-opacity="0.75" paint-order="stroke" stroke-linejoin="round">More Catholic</text>
<text x="1185" y="389" transform="rotate(0 1185 389)" font-size="16.4" fill="#555555" font-weight="normal" font-style="normal" text-anchor="middle" dominant-baseline="central" textLength="110.7" lengthAdjust="spacingAndGlyphs" stroke="#fbfbf8" stroke-width="3" stroke-opacity="0.75" paint-order="stroke" stroke-linejoin="round">Primary School</text>
<text x="126.9" y="754.4" transform="rotate(73.9 126.9 754.4)" font-size="16.4" fill="#6e6e6e" font-weight="normal" font-style="normal" text-anchor="middle" dominant-baseline="central" textLength="95" lengthAdjust="spacingAndGlyphs" stroke="#fbfbf8" stroke-width="3" stroke-opacity="0.75" paint-order="stroke" stroke-linejoin="round">Rutten Lane</text>
<text x="336.9" y="822.5" transform="rotate(0 336.9 822.5)" font-size="20.5" fill="#2e2e2e" font-weight="normal" font-style="normal" text-anchor="middle" dominant-baseline="central" textLength="76.3" lengthAdjust="spacingAndGlyphs" stroke="#fbfbf8" stroke-width="3" stroke-opacity="0.75" paint-order="stroke" stroke-linejoin="round">Yarnton</text>
<text x="19" y="53" transform="rotate(0 19 53)" font-size="16.4" fill="#6e6e6e" font-weight="normal" font-style="normal" text-anchor="middle" dominant-baseline="central" textLength="26" lengthAdjust="spacingAndGlyphs" stroke="#fbfbf8" stroke-width="3" stroke-opacity="0.75" paint-order="stroke" stroke-linejoin="round">e La</text>
<text x="1208.8" y="42.8" transform="rotate(67.8 1208.8 42.8)" font-size="16.4" fill="#6e6e6e" font-weight="normal" font-style="normal" text-anchor="middle" dominant-baseline="central" textLength="72.9" lengthAdjust="spacingAndGlyphs" stroke="#fbfbf8" stroke-width="3" stroke-opacity="0.75" paint-order="stroke" stroke-linejoin="round">een Road</text>
<text x="1354.6" y="157.4" transform="rotate(5.2 1354.6 157.4)" font-size="16.4" fill="#6e6e6e" font-weight="normal" font-style="normal" text-anchor="middle" dominant-baseline="central" textLength="102.2" lengthAdjust="spacingAndGlyphs" stroke="#fbfbf8" stroke-width="3" stroke-opacity="0.75" paint-order="stroke" stroke-linejoin="round">Croft Avenue</text>
<text x="1509.7" y="242.2" transform="rotate(-62.5 1509.7 242.2)" font-size="16.4" fill="#6e6e6e" font-weight="normal" font-style="normal" text-anchor="middle" dominant-baseline="central" textLength="131" lengthAdjust="spacingAndGlyphs" stroke="#fbfbf8" stroke-width="3" stroke-opacity="0.75" paint-order="stroke" stroke-linejoin="round">Edinburgh Drive</text>
<text x="1681.2" y="256.1" transform="rotate(-55 1681.2 256.1)" font-size="16.4" fill="#6e6e6e" font-weight="normal" font-style="normal" text-anchor="middle" dominant-baseline="central" textLength="113" lengthAdjust="spacingAndGlyphs" stroke="#fbfbf8" stroke-width="3" stroke-opacity="0.75" paint-order="stroke" stroke-linejoin="round">Bicester Road</text>
<text x="1406.6" y="368.4" transform="rotate(-1 1406.6 368.4)" font-size="16.4" fill="#6e6e6e" font-weight="normal" font-style="normal" text-anchor="middle" dominant-baseline="central" textLength="107" lengthAdjust="spacingAndGlyphs" stroke="#fbfbf8" stroke-width="3" stroke-opacity="0.75" paint-order="stroke" stroke-linejoin="round">Bicester Road</text>
<text x="1313.2" y="261.5" transform="rotate(-69.9 1313.2 261.5)" font-size="16.4" fill="#6e6e6e" font-weight="normal" font-style="normal" text-anchor="middle" dominant-baseline="central" textLength="111.8" lengthAdjust="spacingAndGlyphs" stroke="#fbfbf8" stroke-width="3" stroke-opacity="0.75" paint-order="stroke" stroke-linejoin="round">Blenheim Road</text>
<text x="1399.3" y="492.9" transform="rotate(0 1399.3 492.9)" font-size="16.4" fill="#555555" font-weight="normal" font-style="normal" text-anchor="middle" dominant-baseline="central" textLength="58.3" lengthAdjust="spacingAndGlyphs" stroke="#fbfbf8" stroke-width="3" stroke-opacity="0.75" paint-order="stroke" stroke-linejoin="round">Gosford</text>
<text x="1399.3" y="511" transform="rotate(0 1399.3 511)" font-size="16.4" fill="#555555" font-weight="normal" font-style="normal" text-anchor="middle" dominant-baseline="central" textLength="77.3" lengthAdjust="spacingAndGlyphs" stroke="#fbfbf8" stroke-width="3" stroke-opacity="0.75" paint-order="stroke" stroke-linejoin="round">Hill School</text>
<text x="1672.6" y="522" transform="rotate(0 1672.6 522)" font-size="20.5" fill="#2e2e2e" font-weight="normal" font-style="normal" text-anchor="middle" dominant-baseline="central" textLength="76.9" lengthAdjust="spacingAndGlyphs" stroke="#fbfbf8" stroke-width="3" stroke-opacity="0.75" paint-order="stroke" stroke-linejoin="round">Gosford</text>
<text x="1566.8" y="617.2" transform="rotate(0 1566.8 617.2)" font-size="16.4" fill="#555555" font-weight="normal" font-style="normal" text-anchor="middle" dominant-baseline="central" textLength="74.4" lengthAdjust="spacingAndGlyphs" stroke="#fbfbf8" stroke-width="3" stroke-opacity="0.75" paint-order="stroke" stroke-linejoin="round">Kidlington</text>
<text x="1566.8" y="635.7" transform="rotate(0 1566.8 635.7)" font-size="16.4" fill="#555555" font-weight="normal" font-style="normal" text-anchor="middle" dominant-baseline="central" textLength="70.1" lengthAdjust="spacingAndGlyphs" stroke="#fbfbf8" stroke-width="3" stroke-opacity="0.75" paint-order="stroke" stroke-linejoin="round">Cemetery</text>
<text x="1208.7" y="613.8" transform="rotate(0 1208.7 613.8)" font-size="16.4" fill="#6b9a5b" font-weight="normal" font-style="normal" text-anchor="middle" dominant-baseline="central" textLength="79.7" lengthAdjust="spacingAndGlyphs" stroke="#fbfbf8" stroke-width="3" stroke-opacity="0.75" paint-order="stroke" stroke-linejoin="round">South Park</text>
<text x="1315.4" y="609.5" transform="rotate(74 1315.4 609.5)" font-size="16.4" fill="#6e6e6e" font-weight="normal" font-style="normal" text-anchor="middle" dominant-baseline="central" textLength="94" lengthAdjust="spacingAndGlyphs" stroke="#fbfbf8" stroke-width="3" stroke-opacity="0.75" paint-order="stroke" stroke-linejoin="round">Oxford Road</text>
<text x="816.3" y="681.3" transform="rotate(-66.4 816.3 681.3)" font-size="16.4" fill="#6e6e6e" font-weight="normal" font-style="normal" text-anchor="middle" dominant-baseline="central" textLength="106.4" lengthAdjust="spacingAndGlyphs" stroke="#fbfbf8" stroke-width="3" stroke-opacity="0.75" paint-order="stroke" stroke-linejoin="round">Yarnton Lane</text>
<text x="1027.5" y="811.3" transform="rotate(-80.8 1027.5 811.3)" font-size="16.4" fill="#5b87a2" font-weight="normal" font-style="italic" text-anchor="middle" dominant-baseline="central" textLength="93.7" lengthAdjust="spacingAndGlyphs" stroke="#fbfbf8" stroke-width="3" stroke-opacity="0.75" paint-order="stroke" stroke-linejoin="round">Oxford Canal</text>
<path id="lp0" d="M1250 40.5 Q1312 68 1375 33" fill="none" stroke="none"/>
<text font-size="16.4" fill="#6e6e6e" dominant-baseline="central" stroke="#fbfbf8" stroke-width="3" stroke-opacity="0.75" paint-order="stroke" stroke-linejoin="round"><textPath href="#lp0" startOffset="50%" text-anchor="middle" textLength="128" lengthAdjust="spacingAndGlyphs">Brasenose Drive</textPath></text>
<path id="lp1" d="M1186 689.5 Q1256 696 1287 741" fill="none" stroke="none"/>
<text font-size="16.4" fill="#6e6e6e" dominant-baseline="central" stroke="#fbfbf8" stroke-width="3" stroke-opacity="0.75" paint-order="stroke" stroke-linejoin="round"><textPath href="#lp1" startOffset="50%" text-anchor="middle" textLength="118" lengthAdjust="spacingAndGlyphs">Hazel Crescent</textPath></text>
<path id="lp2" d="M1139 752 Q1178 793 1246 815" fill="none" stroke="none"/>
<text font-size="16.4" fill="#6e6e6e" dominant-baseline="central" stroke="#fbfbf8" stroke-width="3" stroke-opacity="0.75" paint-order="stroke" stroke-linejoin="round"><textPath href="#lp2" startOffset="50%" text-anchor="middle" textLength="124" lengthAdjust="spacingAndGlyphs">Stratfield Road</textPath></text>
<rect x="269.2" y="750.5" width="31.600000000000023" height="20.0" fill="#fff" stroke="#6a6a6a" stroke-width="1.2"/><text x="285.0" y="761.0" font-size="16" fill="#222" text-anchor="middle" dominant-baseline="central" textLength="24.600000000000023" lengthAdjust="spacingAndGlyphs">A44</text>
<rect x="1252.2" y="440.2" width="44.200000000000045" height="20.100000000000023" fill="#fff" stroke="#6a6a6a" stroke-width="1.2"/><text x="1274.3000000000002" y="450.75" font-size="16" fill="#222" text-anchor="middle" dominant-baseline="central" textLength="38.200000000000045" lengthAdjust="spacingAndGlyphs">A4260</text>
<path d="M601.3 38 C598.8 33 591.3 24.8 591.3 17.3 A10 10 0 1 1 611.3 17.3 C611.3 24.8 603.8 33 601.3 38 Z" fill="#e5301f"/><circle cx="601.3" cy="16.7" r="5.6" fill="#ffffff"/>
<path d="M895.6 457 C893.1 452 885.0 443.33 885.0 435.5 A10.6 10.6 0 1 1 906.2 435.5 C906.2 443.33 898.1 452 895.6 457 Z" fill="#a23b3c" stroke="#d83bd0" stroke-width="2"/><circle cx="895.6" cy="434.9" r="6" fill="#b7eef2"/>
<path d="M911.3 429.7 C908.8 424.7 901.0 417.26500000000004 901.0 409.6 A10.3 10.3 0 1 1 921.5999999999999 409.6 C921.5999999999999 417.26500000000004 913.8 424.7 911.3 429.7 Z" fill="#e8311f"/><circle cx="911.3" cy="409.0" r="6" fill="#ffffff"/>
<!--MAPEND-->
</svg>
</div>



<!-- MAP OVERLAYS -->
<div class="tb" style="left:32px;top:34px;width:102px;height:51px"></div>
<div class="abs" style="left:83px;top:34px;width:1px;height:51px;background:#e4e4e4"></div>
<div class="tb" style="left:147px;top:34px;width:102px;height:51px"></div>
<div class="abs" style="left:198px;top:34px;width:1px;height:51px;background:#e4e4e4"></div>
<div class="tb" style="left:1492px;top:34px;width:51px;height:51px"></div>
<div class="tb" style="left:1556px;top:34px;width:202px;height:51px"></div>
<div class="abs" style="left:1707px;top:757px;width:51px;height:101px;background:#fff;box-shadow:0 2px 6px rgba(0,0,0,.16)"></div>
<div class="abs" style="left:1707px;top:808px;width:51px;height:1px;background:#dedede"></div>
<svg class="abs" style="left:0;top:0" width="1792" height="907" viewBox="0 0 1792 907">
 <g fill="none" stroke="#555" stroke-width="1.6">
  <path d="M47.4 50.5 V52.5 M47.4 55.5 V58.5 M47.4 61.5 V64.5 M47.4 67.5 V70.2 H49.5 M53 70.2 H56 M49.5 49.4 H47 M52.5 49.4 H55.5 M58.5 49.4 H61.5 M64.5 49.4 H68 V51.5 M68 54.5 V57.5"/>
  <path d="M102 57.5 L108.5 64 L115 57.5"/>
  <path d="M217.8 54 L229.6 65.8 M229.6 54 L217.8 65.8"/>
  <circle cx="1514.8" cy="56.6" r="7.2"/>
  <path d="M1520 61.8 L1527 68.8"/>
  <path d="M1569.3 60.8 L1580.6 49.2 L1591.9 60.8 M1571.7 58.6 V70.1 H1576.7 V63.4 H1584 V70.1 H1589.6 V58.6 M1573.4 56.8 V49 H1577 V52.8"/>
  <path d="M1629.5 51 H1642.5 M1629.5 57.3 H1642.5 M1629.5 63.5 H1642.5 M1629.5 69.8 H1642.5"/>
  <path d="M1681.7 49.2 L1693.4 55.6 L1681.7 62 L1670 55.6 Z M1670 60.2 L1681.7 66.9 L1693.4 60.2 M1670 65.1 L1681.7 71.8 L1693.4 65.1"/>
  <path d="M1720.5 47.5 H1730.5 V57.5 H1720.5 Z M1734.5 47.5 H1744.5 V57.5 H1734.5 Z M1720.5 61 H1730.5 V71 H1720.5 Z M1734.5 61 H1744.5 V71 H1734.5 Z"/>
  <path d="M1720.5 52 Q1725 52 1727.5 47.5 M1720.5 54.5 L1723 56 M1737 47.5 V52 H1742 V57.5 M1720.5 68 Q1723 62 1726 63 Q1729 64 1730.5 71 M1738 61 V64 H1741 V68 H1738"/>
  <path d="M1726 783.4 H1741 M1733.5 776 V791"/>
  <path d="M1726 834.3 H1741"/>
 </g>
 <g fill="#555" stroke="none">
  <path d="M61.3 59.5 L68.6 65.6 L65.2 65.9 L67.6 70.6 L66.2 71.4 L63.8 66.8 L61.5 69.2 Z" fill="none" stroke="#555" stroke-width="1.3" stroke-linejoin="round"/><path d="M63.5 65.5 L65.5 65.4 L67.6 70.6 L66.2 71.4 Z"/>
  <rect x="1620.5" y="49" width="4" height="4" fill="none" stroke="#555" stroke-width="1.3"/>
  <circle cx="1622.5" cy="57.3" r="2" fill="none" stroke="#555" stroke-width="1.3"/>
  <rect x="1620.5" y="61.5" width="4" height="4" fill="none" stroke="#555" stroke-width="1.3"/>
  <path d="M1620.3 71.5 L1622.5 67.5 L1624.7 71.5 Z"/>
 </g>
 <g>
  <path d="M162.1 49.3 L170.3 49.3 L176.4 69.9 L162.1 69.9 Z" fill="#d8d8d8"/>
  <path d="M162.4 49.4 V52.5 M162.4 55.5 V58.5 M162.4 61.5 V64.5 M162.4 67.5 V69.9 H165 M168 69.9 H171 M174.3 69.9 H176.5 M162.4 49.4 H165.5 M168.2 49.4 H170.6 M170.5 49.4 L171.3 52.3 M172.2 55.3 L173.1 58.4 M174 61.4 L174.9 64.5 M175.7 67.3 L176.4 69.9 M173.4 49.4 H182.9 V69.9 H179.1 M176.3 58.2 Q178.5 55.9 182.4 55.4" fill="none" stroke="#555" stroke-width="1.6"/>
 </g>
</svg>
<!-- scale bar -->
<div class="abs" style="left:34px;top:804px;width:104px;height:26px;background:rgba(255,255,255,.35)"></div>
<div class="abs" style="left:34px;top:831px;width:160px;height:26px;background:rgba(255,255,255,.35)"></div>
<div class="abs" style="left:32px;top:803px;width:3px;height:54px;background:#2b2b2b"></div>
<div class="abs" style="left:32px;top:828px;width:163px;height:3px;background:#2b2b2b"></div>
<div class="abs" style="left:137px;top:803px;width:3px;height:27px;background:#2b2b2b"></div>
<div class="abs" style="left:192px;top:829px;width:3px;height:28px;background:#2b2b2b"></div>
<div class="t" style="left:43px;top:808.3px;font-size:18px;font-weight:bold;letter-spacing:0.8px;color:#2b2b2b">200 m</div>
<div class="t" style="left:43px;top:833px;font-size:18px;font-weight:bold;letter-spacing:0.8px;color:#2b2b2b">1,000 ft</div>
<!-- attribution -->
<div class="abs" style="left:9px;top:882px;width:1772px;height:24px;background:rgba(255,255,255,.55)"></div>
<div class="t" style="left:16.5px;top:884.2px;font-size:18.75px;color:#505050">Esri, Intermap, NASA, NGA, USGS | Esri Community Maps Contributors, Esri UK, Esri, TomTom, Garmin, Foursquare, GeoTechnologies, Inc, METI/NASA, USGS | © Environment Agency co…</div>
<div class="t" style="left:1635px;top:884.2px;font-size:18.8px;color:#505050">Powered by Esri</div>

<!-- POPUP -->
<div id="popup" class="abs" style="left:32px;top:100px;width:632px;height:607px;background:#fff;box-shadow:0 1px 3px rgba(0,0,0,.4);overflow:hidden">
 <div class="abs" style="left:0;top:51px;width:632px;height:1px;background:#dedede"></div>
 <div class="abs" style="left:519px;top:0;width:1px;height:51px;background:#dedede"></div>
 <svg class="abs" style="left:0;top:0" width="632" height="260" viewBox="0 0 632 260">
  <g fill="none" stroke="#555" stroke-width="1.6">
   <path d="M28.5 18.5 L22 25.2 L28.5 32"/>
   <path d="M73.5 18.5 L80 25.2 L73.5 32"/>
   <path d="M512 124.5 L518.5 118 L525 124.5"/>
   <path d="M587.5 115.5 L599.5 127.5 M599.5 115.5 L587.5 127.5"/>
  </g>
  <g fill="none" stroke="#555" stroke-width="1.5">
   <rect x="534.8" y="15.3" width="3.6" height="3.6"/>
   <rect x="534.8" y="24.8" width="3.6" height="3.6"/>
   <rect x="534.8" y="34.2" width="3.6" height="3.6"/>
  </g>
  <g stroke="#555" stroke-width="1.8">
   <path d="M543 16.9 H557 M543 26.4 H557 M543 35.8 H557"/>
  </g>
  <g fill="none" stroke="#666" stroke-width="1.5">
   <circle cx="22.9" cy="214.3" r="7.3"/>
   <path d="M22.9 210 V218.6 M18.6 214.3 H27.2"/>
   <path d="M28.2 219.6 L36.5 228" stroke-width="2.6"/>
   <path d="M160.5 205 V227 M149.5 216 H171.5 M156.8 208.7 L160.5 205 L164.2 208.7 M156.8 223.3 L160.5 227 L164.2 223.3 M153.2 212.3 L149.5 216 L153.2 219.7 M167.8 212.3 L171.5 216 L167.8 219.7"/>
  </g>
 </svg>
 <div class="t" style="left:571.5px;top:16.3px;font-size:20px;letter-spacing:-0.4px;color:#6a6a6a">1 of 2</div>
 <div class="t" style="left:19px;top:75.7px;font-size:26px;font-weight:bold;letter-spacing:-0.6px;color:#2b2b2b">Global Data Set</div>
 <div class="t" style="left:19px;top:139.2px;font-size:26px;font-weight:bold;letter-spacing:-0.6px;color:#2b2b2b">Water Quality: Poor</div>
 <div class="abs" style="left:0;top:191px;width:632px;height:1px;background:#dedede"></div>
 <div class="t" style="left:50.5px;top:206.1px;font-size:20px;letter-spacing:-0.1px;color:#6a6a6a">Zoom to</div>
 <div class="t" style="left:185.5px;top:206.1px;font-size:20px;letter-spacing:-0.6px;color:#6a6a6a">Pan</div>
 <div class="abs" style="left:0;top:242px;width:632px;height:1px;background:#dedede"></div>
 <div class="abs" style="left:603px;top:243px;width:29px;height:364px;background:#f9f9f9;border-left:1px solid #e6e6e6"></div>
 <div class="abs" style="left:610px;top:245px;width:16px;height:48px;border-radius:8px;background:#c1c1c1"></div>
 <div id="tbl" class="abs" style="left:30px;top:262px;width:542px;font-size:19.5px;color:#404040"><div class="abs" style="left:0;top:0px;width:542px;height:43px;background:#ececec"></div><div class="abs" style="left:269.3px;top:0px;width:3.4px;height:43px;background:#e0e0e0"></div><div class="abs" style="left:13.7px;top:9.8px;line-height:23.6px;white-space:nowrap">Group Name</div><div class="abs" style="left:286.6px;top:9.8px;line-height:23.6px;white-space:nowrap">Thames WaterBlitz</div><div class="abs" style="left:0;top:43px;width:542px;height:43px;background:#f8f8f8"></div><div class="abs" style="left:269.3px;top:43px;width:3.4px;height:43px;background:#ececec"></div><div class="abs" style="left:13.7px;top:52.8px;line-height:23.6px;white-space:nowrap">Site Name</div><div class="abs" style="left:286.6px;top:52.8px;line-height:23.6px;white-space:nowrap">Oxford Canal, bridge 228</div><div class="abs" style="left:0;top:86px;width:542px;height:42px;background:#ececec"></div><div class="abs" style="left:269.3px;top:86px;width:3.4px;height:42px;background:#e0e0e0"></div><div class="abs" style="left:13.7px;top:95.8px;line-height:23.6px;white-space:nowrap">Sample Date</div><div class="abs" style="left:286.6px;top:95.8px;line-height:23.6px;white-space:nowrap">21 September 2019</div><div class="abs" style="left:0;top:128px;width:542px;height:43px;background:#f8f8f8"></div><div class="abs" style="left:269.3px;top:128px;width:3.4px;height:43px;background:#ececec"></div><div class="abs" style="left:13.7px;top:137.8px;line-height:23.6px;white-space:nowrap">Sample Time</div><div class="abs" style="left:0;top:171px;width:542px;height:65.5px;background:#ececec"></div><div class="abs" style="left:269.3px;top:171px;width:3.4px;height:65.5px;background:#e0e0e0"></div><div class="abs" style="left:13.7px;top:180.8px;line-height:23.6px;white-space:nowrap">Total number of<br>participants</div><div class="abs" style="left:286.6px;top:180.8px;line-height:23.6px;white-space:nowrap">3</div><div class="abs" style="left:0;top:236.5px;width:542px;height:43.5px;background:#f8f8f8"></div><div class="abs" style="left:269.3px;top:236.5px;width:3.4px;height:43.5px;background:#ececec"></div><div class="abs" style="left:13.7px;top:246.3px;line-height:23.6px;white-space:nowrap">Freshwater body type</div><div class="abs" style="left:286.6px;top:246.3px;line-height:23.6px;white-space:nowrap">Other</div><div class="abs" style="left:0;top:280px;width:542px;height:66px;background:#ececec"></div><div class="abs" style="left:269.3px;top:280px;width:3.4px;height:66px;background:#e0e0e0"></div><div class="abs" style="left:13.7px;top:289.8px;line-height:23.6px;white-space:nowrap">What type of Freshwater<br>Body is this?</div><div class="abs" style="left:286.6px;top:289.8px;line-height:23.6px;white-space:nowrap">Canal</div></div>
</div>

<div class="panel" style="left:8px;width:881px"></div>
<div class="panel" style="left:902px;width:880px"></div>

<!-- LEFT CHART -->
<div class="abs" style="left:133px;top:953px;width:1px;height:539px;background:#a8a8a8"></div>
<div class="abs" style="left:836px;top:953px;width:1px;height:538px;background:#e2e2e2"></div>
<div class="abs" style="left:124px;top:1167px;width:712px;height:1px;background:#dcdcdc"></div>
<div class="abs" style="left:204px;top:1167px;width:563px;height:324px;background:#3f24a8"></div>
<div class="abs" style="left:133px;top:1491px;width:704px;height:1px;background:#a8a8a8"></div>
<div class="abs" style="left:486px;top:1491px;width:1px;height:8px;background:#a8a8a8"></div>
<div class="t" style="left:102px;top:1152px;font-size:21px;color:#323232">2</div>
<div class="t" style="left:479px;top:1131px;font-size:21px;color:#323232">2</div>
<div class="t" style="left:470px;top:1513px;font-size:21px;color:#323232">2-5</div>
<div class="t" style="left:408px;top:1573px;font-size:22px;font-weight:bold;color:#222">Nitrates (mg/L)</div>
<div class="t" style="left:30px;top:1217px;width:80px;text-align:center;font-size:22px;font-weight:bold;color:#222;transform:rotate(-90deg)">Samples</div>
<!-- RIGHT CHART -->
<div class="abs" style="left:1027px;top:953px;width:1px;height:539px;background:#a8a8a8"></div>
<div class="abs" style="left:1379px;top:953px;width:1px;height:538px;background:#e2e2e2"></div>
<div class="abs" style="left:1730px;top:953px;width:1px;height:538px;background:#e2e2e2"></div>
<div class="abs" style="left:1018px;top:1223px;width:712px;height:1px;background:#dcdcdc"></div>
<div class="abs" style="left:1062px;top:1223px;width:282px;height:268px;background:#cb8956"></div>
<div class="abs" style="left:1414px;top:1223px;width:282px;height:268px;background:#c24a6e"></div>
<div class="abs" style="left:1027px;top:1491px;width:704px;height:1px;background:#a8a8a8"></div>
<div class="abs" style="left:1202px;top:1491px;width:1px;height:8px;background:#a8a8a8"></div>
<div class="abs" style="left:1554px;top:1491px;width:1px;height:8px;background:#a8a8a8"></div>
<div class="t" style="left:996px;top:1208px;font-size:21px;color:#323232">1</div>
<div class="t" style="left:1196px;top:1186px;font-size:21px;color:#323232">1</div>
<div class="t" style="left:1548px;top:1186px;font-size:21px;color:#323232">1</div>
<div class="t" style="left:1158px;top:1513px;font-size:21px;color:#323232">0.02-0.05</div>
<div class="t" style="left:1516px;top:1513px;font-size:21px;color:#323232">0.05-0.1</div>
<div class="t" style="left:1284px;top:1573.5px;font-size:21.4px;font-weight:bold;color:#222">Phosphates (mg/L)</div>
<div class="t" style="left:922px;top:1217px;width:80px;text-align:center;font-size:22px;font-weight:bold;color:#222;transform:rotate(-90deg)">Samples</div>
</body></html>
